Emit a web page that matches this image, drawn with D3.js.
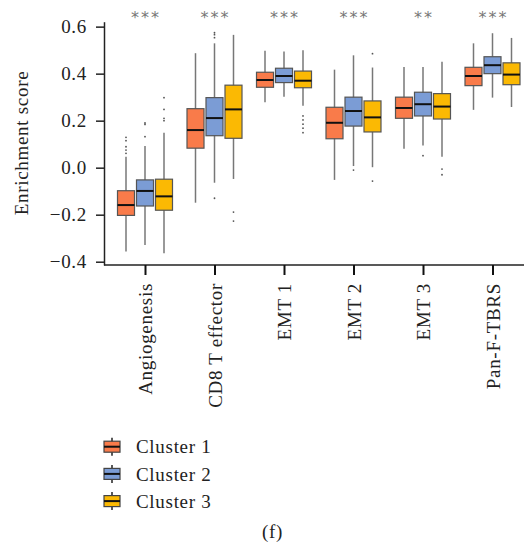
<!DOCTYPE html>
<html>
<head>
<meta charset="utf-8">
<style>
  body{margin:0;background:#fff;}
  svg{display:block;font-family:"Liberation Serif","Times New Roman",serif;}
</style>
</head>
<body>
<div id="chart"></div>
<script src="https://d3js.org/d3.v7.min.js"></script>
<script>
// categories and series
var categories = ['Angiogenesis', 'CD8 T effector', 'EMT 1', 'EMT 2', 'EMT 3', 'Pan-F-TBRS']
var clusters = ['Cluster 1', 'Cluster 2', 'Cluster 3']
var colors = ['#f97b4a', '#7b9cd5', '#fbb903']
var signif = ['***', '***', '***', '***', '**', '***']
var yTicks = [-0.4, -0.2, 0.0, 0.2, 0.4, 0.6]

// [whiskerLow, q1, median, q3, whiskerHigh] per category, one array per cluster
var cluster1Stats = [
  [-0.357, -0.203, -0.159, -0.098, 0.047],
  [-0.149, 0.083, 0.160, 0.251, 0.487],
  [0.278, 0.342, 0.373, 0.406, 0.497],
  [-0.052, 0.123, 0.191, 0.257, 0.417],
  [0.080, 0.210, 0.254, 0.300, 0.428],
  [0.246, 0.349, 0.390, 0.427, 0.529]
]
var cluster2Stats = [
  [-0.329, -0.163, -0.099, -0.052, 0.092],
  [-0.064, 0.136, 0.211, 0.298, 0.529],
  [0.302, 0.362, 0.390, 0.423, 0.494],
  [0.007, 0.177, 0.241, 0.300, 0.478],
  [0.094, 0.220, 0.270, 0.321, 0.428],
  [0.298, 0.400, 0.436, 0.472, 0.572]
]
var cluster3Stats = [
  [-0.364, -0.181, -0.122, -0.049, 0.149],
  [-0.048, 0.125, 0.248, 0.351, 0.565],
  [0.263, 0.340, 0.370, 0.411, 0.500],
  [0.002, 0.152, 0.214, 0.284, 0.426],
  [0.047, 0.207, 0.260, 0.315, 0.451],
  [0.258, 0.353, 0.396, 0.446, 0.552]
]
var cluster1Outliers = [[0.129, 0.115, 0.089, 0.075, 0.061], [], [], [], [], []]
var cluster2Outliers = [[0.19, 0.184, 0.132], [0.574, 0.566, 0.553, -0.13], [], [-0.01], [0.051], []]
var cluster3Outliers = [[0.298, 0.248, 0.21, 0.2], [-0.189, -0.227], [0.22, 0.203, 0.185, 0.168, 0.149], [0.485, -0.057], [-0.006, -0.03], []]

var allStats = [cluster1Stats, cluster2Stats, cluster3Stats]
var allOutliers = [cluster1Outliers, cluster2Outliers, cluster3Outliers]

var width = 524, height = 554
var fs = 19, ls = '0.7px'
var svg = d3.select('#chart').append('svg')
  .attr('width', width)
  .attr('height', height)

var xScale = d3.scalePoint().domain(categories).range([145, 492.5])
var offset = d3.scalePoint().domain(clusters).range([-19, 19])
var yScale = d3.scaleLinear().domain([-0.414, 0.621]).range([265, 21.7])
var boxW = 17

// axes
var yAxis = svg.append('g')
  .attr('transform', 'translate(104,0)')
  .call(d3.axisLeft(yScale).tickValues(yTicks).tickFormat(d3.format('.1f')).tickSize(8).tickSizeOuter(0))
yAxis.select('.domain').attr('stroke', '#222').attr('stroke-width', 1.5)
yAxis.selectAll('.tick line').attr('stroke', '#222').attr('stroke-width', 1.5)
yAxis.selectAll('.tick text')
  .attr('font-family', 'Liberation Serif')
  .attr('font-size', fs)
  .attr('letter-spacing', ls)
  .attr('fill', '#222')
  .attr('x', -17)
  .text(function(d){ return d < 0 ? '\u2212' + d3.format('.1f')(-d) : d3.format('.1f')(d) })

var xAxis = svg.append('g')
  .attr('transform', 'translate(0,265)')
  .call(d3.axisBottom(xScale).tickSize(10).tickSizeOuter(0))
xAxis.select('.domain').attr('d', 'M104,0H524').attr('stroke', '#222').attr('stroke-width', 1.5)
xAxis.selectAll('.tick line').attr('stroke', '#111').attr('stroke-width', 2)
xAxis.selectAll('.tick text')
  .attr('font-family', 'Liberation Serif')
  .attr('font-size', fs)
  .attr('letter-spacing', ls)
  .attr('fill', '#222')
  .attr('text-anchor', 'end')
  .attr('transform', 'rotate(-90)')
  .attr('x', -18)
  .attr('y', 0)
  .attr('dy', '0.35em')

svg.append('text')
  .attr('transform', 'translate(28,143) rotate(-90)')
  .attr('text-anchor', 'middle')
  .attr('font-size', fs)
  .attr('letter-spacing', ls)
  .attr('fill', '#222')
  .text('Enrichment score')

// significance stars
svg.selectAll('.sig')
  .data(categories)
  .enter()
  .append('text')
  .attr('class', 'sig')
  .attr('x', function(d){ return xScale(d) + 1 })
  .attr('y', 23)
  .attr('text-anchor', 'middle')
  .attr('font-family', 'DejaVu Sans')
  .attr('font-size', 16)
  .attr('letter-spacing', '2px')
  .attr('fill', '#777')
  .text(function(d, i){ return signif[i] })

// boxes
clusters.forEach(function(cl, ci){
  var g = svg.append('g')
  categories.forEach(function(cat, k){
    var s = allStats[ci][k]
    var cx = xScale(cat) + offset(cl)
    g.append('line')
      .attr('x1', cx).attr('x2', cx)
      .attr('y1', yScale(s[0])).attr('y2', yScale(s[4]))
      .attr('stroke', '#777').attr('stroke-width', 1.5)
    g.append('rect')
      .attr('x', cx - boxW / 2)
      .attr('y', yScale(s[3]))
      .attr('width', boxW)
      .attr('height', yScale(s[1]) - yScale(s[3]))
      .attr('fill', colors[ci])
      .attr('stroke', '#555')
      .attr('stroke-width', 1.2)
    g.append('line')
      .attr('x1', cx - boxW / 2).attr('x2', cx + boxW / 2)
      .attr('y1', yScale(s[2])).attr('y2', yScale(s[2]))
      .attr('stroke', '#111').attr('stroke-width', 2)
    allOutliers[ci][k].forEach(function(v){
      g.append('circle')
        .attr('cx', cx)
        .attr('cy', yScale(v))
        .attr('r', 0.9)
        .attr('fill', '#555')
    })
  })
})

// legend
var legend = svg.append('g')
clusters.forEach(function(cl, ci){
  var ly = 446.7 + ci * 27.2
  legend.append('line')
    .attr('x1', 112).attr('x2', 112)
    .attr('y1', ly - 9).attr('y2', ly + 9)
    .attr('stroke', '#222').attr('stroke-width', 1.5)
  legend.append('rect')
    .attr('x', 104).attr('y', ly - 5.5)
    .attr('width', 16).attr('height', 11)
    .attr('fill', colors[ci])
    .attr('stroke', '#444').attr('stroke-width', 1.2)
  legend.append('line')
    .attr('x1', 104).attr('x2', 120)
    .attr('y1', ly).attr('y2', ly)
    .attr('stroke', '#111').attr('stroke-width', 2)
  legend.append('text')
    .attr('x', 136)
    .attr('y', ly)
    .attr('dy', '0.35em')
    .attr('font-size', fs)
    .attr('letter-spacing', ls)
    .attr('fill', '#222')
    .text(cl)
})

svg.append('text')
  .attr('x', 272.5)
  .attr('y', 538)
  .attr('text-anchor', 'middle')
  .attr('font-size', fs)
  .attr('letter-spacing', ls)
  .attr('fill', '#222')
  .text('(f)')
</script>
</body>
</html>
